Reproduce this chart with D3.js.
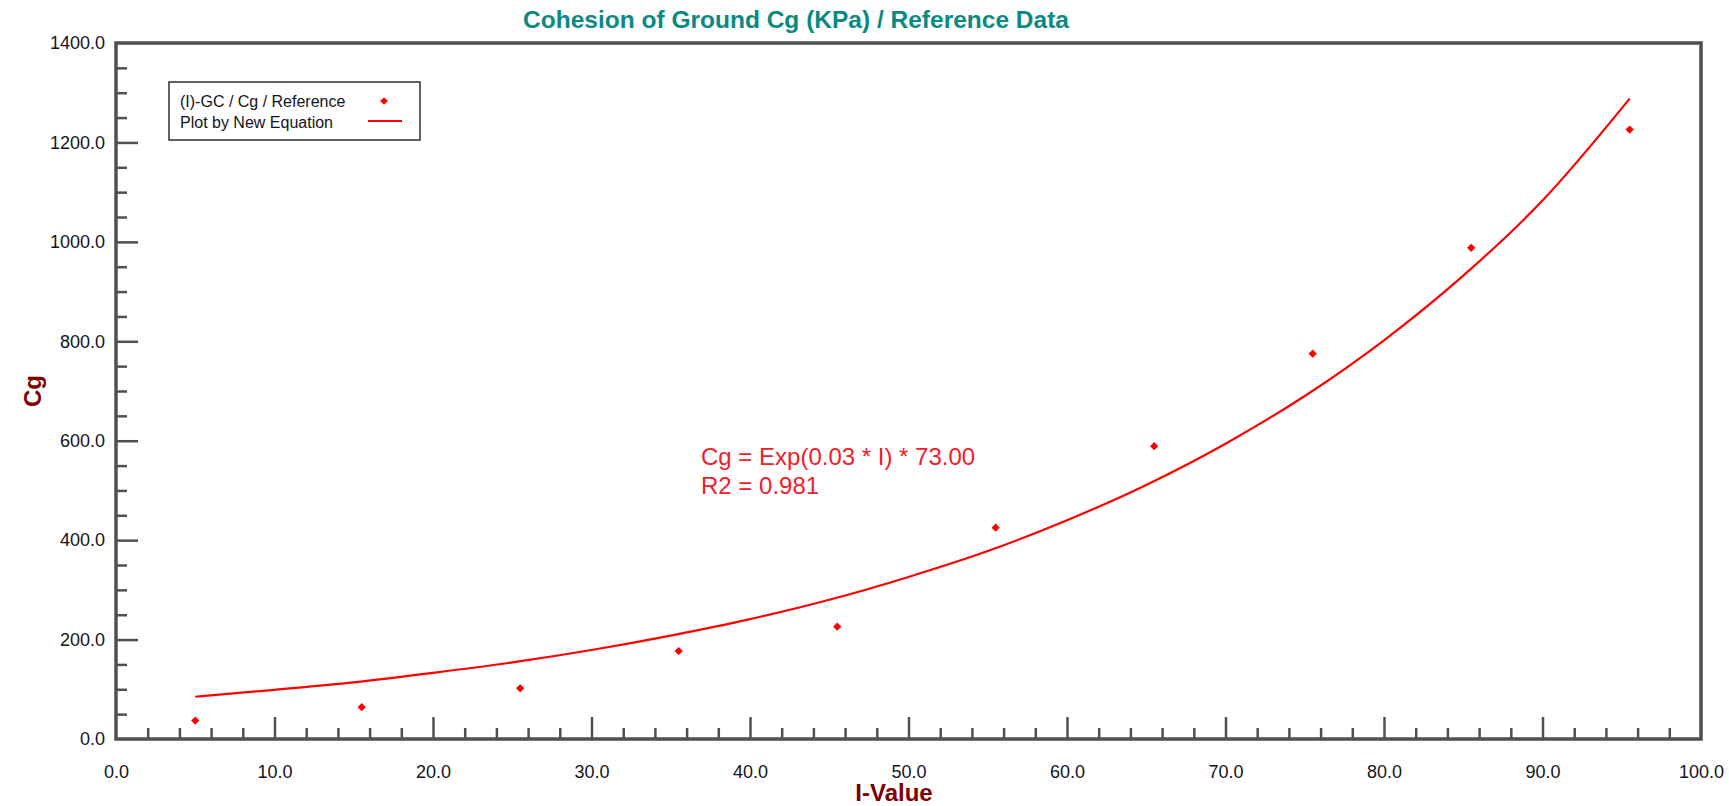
<!DOCTYPE html>
<html>
<head>
<meta charset="utf-8">
<script src="https://cdn.jsdelivr.net/npm/d3@7/dist/d3.min.js"></script>
<style>
  html, body { margin: 0; padding: 0; background: #ffffff; }
  svg { display: block; }
</style>
</head>
<body>
<svg id="chart" width="1729" height="806"></svg>
<script>
// ---- Data ----
const refI  = [5, 15.5, 25.5, 35.5, 45.5, 55.5, 65.5, 75.5, 85.5, 95.5];
const refCg = [37, 64, 102, 177, 226, 425, 589, 775, 988, 1226];

const curveI  = [5, 10, 15, 20, 25, 30, 35, 40, 45, 50, 55, 60, 65, 70, 75, 80, 85, 90, 95.5];
const curveCg = [85, 99, 114, 133, 154, 179, 208, 241, 280, 326, 378, 440, 511, 594, 690, 802, 932, 1083, 1288];

const xTickValues = [0, 10, 20, 30, 40, 50, 60, 70, 80, 90, 100];
const yTickValues = [0, 200, 400, 600, 800, 1000, 1200, 1400];

const titleText = "Cohesion of Ground Cg (KPa) / Reference Data";
const xTitle = "I-Value";
const yTitle = "Cg";
const legendLabels = ["(I)-GC / Cg / Reference", "Plot by New Equation"];
const equationLines = ["Cg = Exp(0.03 * I) * 73.00", "R2 = 0.981"];

// ---- Layout ----
const svg = d3.select("#chart");
const L = 116, R = 1701, T = 43, B = 739;
const axisColor = "#505050";
const red = "#ff0000";
const font = "'Liberation Sans', Arial, sans-serif";

const x = d3.scaleLinear().domain([0, 100]).range([L, R]);
const y = d3.scaleLinear().domain([0, 1400]).range([B, T]);

// Title
svg.append("text")
  .attr("x", 796).attr("y", 28)
  .attr("text-anchor", "middle")
  .attr("font-family", font).attr("font-weight", "bold").attr("font-size", 24.5)
  .attr("fill", "#0a8a82")
  .text(titleText);

// Minor / major ticks (inside) via d3 axes
const xMinor = d3.range(0, 101, 2).filter(v => v % 10 !== 0);
const yMinor = d3.range(0, 1401, 50).filter(v => v % 200 !== 0);

function styleAxis(g) {
  g.select(".domain").remove();
  g.selectAll("line").attr("stroke", axisColor).attr("stroke-width", 2.5);
}

svg.append("g").attr("transform", `translate(0,${B})`)
  .call(d3.axisTop(x).tickValues(xMinor).tickSize(11).tickFormat(""))
  .call(styleAxis);
svg.append("g").attr("transform", `translate(0,${B})`)
  .call(d3.axisTop(x).tickValues(xTickValues.slice(1, -1)).tickSize(22).tickFormat(""))
  .call(styleAxis);
svg.append("g").attr("transform", `translate(${L},0)`)
  .call(d3.axisRight(y).tickValues(yMinor).tickSize(11).tickFormat(""))
  .call(styleAxis);
svg.append("g").attr("transform", `translate(${L},0)`)
  .call(d3.axisRight(y).tickValues(yTickValues.slice(1, -1)).tickSize(22).tickFormat(""))
  .call(styleAxis);

// Tick labels
const xLab = svg.append("g").attr("transform", `translate(0,${B})`)
  .call(d3.axisBottom(x).tickValues(xTickValues).tickSize(0).tickPadding(26).tickFormat(d3.format(".1f")));
xLab.select(".domain").remove();
xLab.selectAll("text").attr("font-family", font).attr("font-size", 18).attr("fill", "#141420");

const yLab = svg.append("g").attr("transform", `translate(${L},0)`)
  .call(d3.axisLeft(y).tickValues(yTickValues).tickSize(0).tickPadding(11).tickFormat(d3.format(".1f")));
yLab.select(".domain").remove();
yLab.selectAll("text").attr("font-family", font).attr("font-size", 18).attr("fill", "#141420");

// Frame
svg.append("rect")
  .attr("x", L).attr("y", T).attr("width", R - L).attr("height", B - T)
  .attr("fill", "none").attr("stroke", axisColor).attr("stroke-width", 3.5);

// Axis titles
svg.append("text")
  .attr("x", 894).attr("y", 801)
  .attr("text-anchor", "middle")
  .attr("font-family", font).attr("font-weight", "bold").attr("font-size", 24)
  .attr("fill", "#800000")
  .text(xTitle);
svg.append("text")
  .attr("transform", "translate(41,391) rotate(-90)")
  .attr("text-anchor", "middle")
  .attr("font-family", font).attr("font-weight", "bold").attr("font-size", 24)
  .attr("fill", "#800000")
  .text(yTitle);

// Curve
const curveData = curveI.map((v, i) => [v, curveCg[i]]);
svg.append("path")
  .datum(curveData)
  .attr("fill", "none").attr("stroke", red).attr("stroke-width", 2.2)
  .attr("d", d3.line().x(d => x(d[0])).y(d => y(d[1])).curve(d3.curveMonotoneX));

// Points
const sym = d3.symbol().type(d3.symbolSquare).size(34);
svg.append("g").selectAll("path")
  .data(refI.map((v, i) => [v, refCg[i]]))
  .join("path")
  .attr("transform", d => `translate(${x(d[0])},${y(d[1])}) rotate(45)`)
  .attr("d", sym)
  .attr("fill", red);

// Equation text
const eq = svg.append("text")
  .attr("font-family", font).attr("font-size", 24).attr("fill", "#f0202a");
equationLines.forEach((t, i) => {
  eq.append("tspan").attr("x", 701).attr("y", 465 + i * 29).text(t);
});

// Legend
const lg = svg.append("g");
lg.append("rect")
  .attr("x", 169).attr("y", 82).attr("width", 251).attr("height", 58)
  .attr("fill", "#ffffff").attr("stroke", "#303030").attr("stroke-width", 1.5);
legendLabels.forEach((t, i) => {
  lg.append("text")
    .attr("x", 180).attr("y", 107 + i * 21)
    .attr("font-family", font).attr("font-size", 16).attr("fill", "#141420")
    .text(t);
});
lg.append("path")
  .attr("transform", "translate(384,101) rotate(45)")
  .attr("d", d3.symbol().type(d3.symbolSquare).size(30))
  .attr("fill", red);
lg.append("line")
  .attr("x1", 368).attr("x2", 402).attr("y1", 121).attr("y2", 121)
  .attr("stroke", red).attr("stroke-width", 2.2);
</script>
</body>
</html>
